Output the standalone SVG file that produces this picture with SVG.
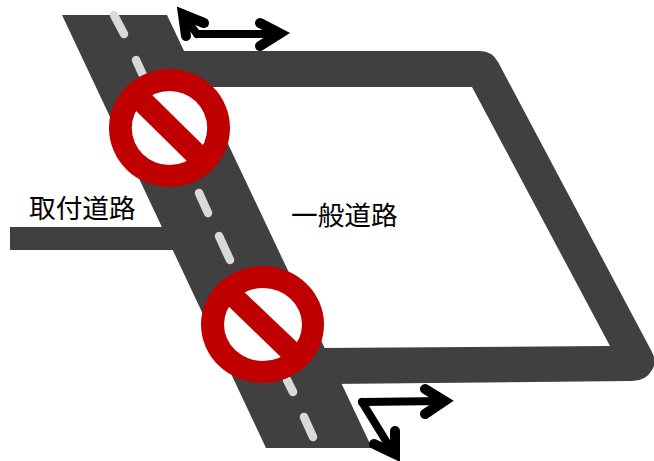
<svg xmlns="http://www.w3.org/2000/svg" width="654" height="461" viewBox="0 0 654 461">
<style>
.road{fill:#404040}
.dash{fill:none;stroke:#d9d9d9;stroke-width:8.500;stroke-linecap:round}
.ring{fill:#c00000}
.hole{fill:#fff}
.shaft{fill:none;stroke:#000;stroke-width:8;stroke-linecap:round}
.head{fill:none;stroke:#000;stroke-width:10;stroke-linecap:round;stroke-linejoin:miter;stroke-miterlimit:10}
.lbl{font-family:"Noto Sans CJK JP","Noto Sans",sans-serif;font-size:26.700px;fill:#000}
</style>
<rect width="654" height="461" fill="#fff"/>
<g id="roads">
<path id="general-road" class="road" d="M170,51 L480,51 Q492,51 498,62 L652,352 Q657,362 652,370 Q646,381 632,381 L330,384 L320,348 L610,346 L472,87 L170,87 Z"/>
<rect id="access-road" class="road" x="10" y="227" width="170" height="23"/>
<polygon id="main-road" class="road" points="62,15 167,15 372,448 266,448"/>
</g>
<g id="lane-dashes">
<path class="dash" d="M114,15 L124,34"/>
<path class="dash" d="M136,60 L147,84"/>
<path class="dash" d="M199,193 L208,213"/>
<path class="dash" d="M219,236 L230,260"/>
<path class="dash" d="M287,380 L293,392"/>
<path class="dash" d="M304,417 L313,437"/>
</g>
<g id="sign-top">
<ellipse class="ring" cx="169.5" cy="128" rx="60.5" ry="59"/>
<ellipse class="hole" cx="169.5" cy="128" rx="37.7" ry="37"/>
<polygon class="ring" points="130,105 146,89 209,151 193,167"/>
</g>
<g id="sign-bottom">
<ellipse class="ring" cx="262.5" cy="324.5" rx="61.5" ry="58.5"/>
<ellipse class="hole" cx="263" cy="324.5" rx="39" ry="36.5"/>
<polygon class="ring" points="223,301 239,287 303,348 287,363"/>
</g>
<g id="connectors">
<path class="shaft" d="M197,34 L280,34"/>
<path class="head" d="M260,23 L280,33.5 L260,46"/>
<path class="shaft" d="M197,34 L183,15"/>
<path class="head" d="M204,23 L183,14.500 L186,36"/>
<path class="shaft" d="M362,402 L444,401"/>
<path class="head" d="M425,389 L444.500,401 L425,414"/>
<path class="shaft" d="M362,402 L394,454"/>
<path class="head" d="M395,431 L395,454 L374,444"/>
</g>
<g id="labels">
<text class="lbl" x="29" y="218">取付道路</text>
<text class="lbl" x="291" y="225">一般道路</text>
</g>
</svg>
